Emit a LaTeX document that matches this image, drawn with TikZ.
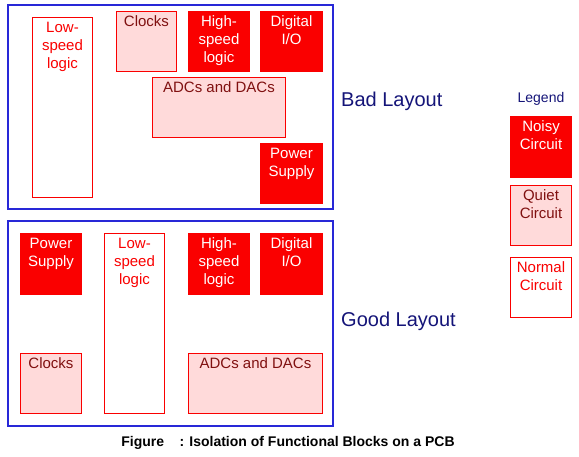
\documentclass[tikz,border=0pt]{standalone}
\usepackage{fontspec}
\setmainfont{Liberation Sans}
\usepackage{tikz}
\usetikzlibrary{positioning}
\definecolor{noisyred}{RGB}{250,0,0}
\definecolor{quietpink}{RGB}{255,218,218}
\definecolor{quiettext}{RGB}{128,16,16}
\definecolor{boardblue}{RGB}{40,40,215}
\definecolor{navytext}{RGB}{20,20,120}
\tikzstyle{Block}=[rectangle, anchor=north west, draw=noisyred, line width=1pt, inner sep=0]
\tikzstyle{Noisy}=[Block, fill=noisyred]
\tikzstyle{Quiet}=[Block, fill=quietpink]
\tikzstyle{Normal}=[Block, fill=white]
\tikzstyle{BlockText}=[inner sep=0, align=center, font=\fontsize{15}{18}\selectfont]
\tikzstyle{NoisyText}=[BlockText, text=white]
\tikzstyle{QuietText}=[BlockText, text=quiettext]
\tikzstyle{NormalText}=[BlockText, text=noisyred]
\tikzstyle{Board}=[draw=boardblue, line width=1.3pt]

\begin{document}
\begin{tikzpicture}[x=1pt, y=-1pt]
    \useasboundingbox (0,0) rectangle (579,457);

    % bad layout
    \draw[Board] (8,5) rectangle (333,209);
    \path
    (32,17) node[Normal, minimum width=60, minimum height=180] (bls) {}
    (116,11) node[Quiet, minimum width=60, minimum height=60] (bclk) {}
    (188,11) node[Noisy, minimum width=61, minimum height=60] (bhs) {}
    (260,11) node[Noisy, minimum width=62, minimum height=60] (bdio) {}
    (152,77) node[Quiet, minimum width=133, minimum height=60] (badc) {}
    (260,143) node[Noisy, minimum width=62, minimum height=60] (bpwr) {};

    \node[NormalText, below=4.5pt of bls.north] (bls-t) {Low-\\speed\\logic};
    \node[QuietText, below=4.5pt of bclk.north] (bclk-t) {Clocks};
    \node[NoisyText, below=4.5pt of bhs.north] (bhs-t) {High-\\speed\\logic};
    \node[NoisyText, below=4.5pt of bdio.north] (bdio-t) {Digital\\I/O};
    \node[QuietText, below=4.5pt of badc.north] (badc-t) {ADCs and DACs};
    \node[NoisyText, below=4.5pt of bpwr.north] (bpwr-t) {Power\\Supply};

    % good layout
    \draw[Board] (8,221) rectangle (333,426);
    \path
    (20,233) node[Noisy, minimum width=61, minimum height=61] (gpwr) {}
    (104,233) node[Normal, minimum width=60, minimum height=180] (gls) {}
    (188,233) node[Noisy, minimum width=61, minimum height=61] (ghs) {}
    (260,233) node[Noisy, minimum width=62, minimum height=61] (gdio) {}
    (20,353) node[Quiet, minimum width=61, minimum height=60] (gclk) {}
    (188,353) node[Quiet, minimum width=134, minimum height=60] (gadc) {};

    \node[NoisyText, below=4.5pt of gpwr.north] (gpwr-t) {Power\\Supply};
    \node[NormalText, below=4.5pt of gls.north] (gls-t) {Low-\\speed\\logic};
    \node[NoisyText, below=4.5pt of ghs.north] (ghs-t) {High-\\speed\\logic};
    \node[NoisyText, below=4.5pt of gdio.north] (gdio-t) {Digital\\I/O};
    \node[QuietText, below=4.5pt of gclk.north] (gclk-t) {Clocks};
    \node[QuietText, below=4.5pt of gadc.north] (gadc-t) {ADCs and DACs};

    \path
    (341,101) node[anchor=west, inner sep=0, text=navytext, font=\fontsize{20}{24}\selectfont] (bad) {Bad Layout}
    (341,321) node[anchor=west, inner sep=0, text=navytext, font=\fontsize{20}{24}\selectfont] (good) {Good Layout};

    % legend
    \path
    (510,116) node[Noisy, minimum width=61, minimum height=61] (lnoisy) {}
    (510,185) node[Quiet, minimum width=61, minimum height=60] (lquiet) {}
    (510,257) node[Normal, minimum width=61, minimum height=60] (lnormal) {};
    \node[inner sep=0, text=navytext, font=\fontsize{14}{17}\selectfont, above=10pt of lnoisy] (legend) {Legend};
    \node[NoisyText, below=4.5pt of lnoisy.north] (lnoisy-t) {Noisy\\Circuit};
    \node[QuietText, below=4.5pt of lquiet.north] (lquiet-t) {Quiet\\Circuit};
    \node[NormalText, below=4.5pt of lnormal.north] (lnormal-t) {Normal\\Circuit};

    \path (288,443) node[font=\fontsize{14}{17}\selectfont\bfseries] (caption) {Figure\hspace{1.1em}: Isolation of Functional Blocks on a PCB};
\end{tikzpicture}
\end{document}
